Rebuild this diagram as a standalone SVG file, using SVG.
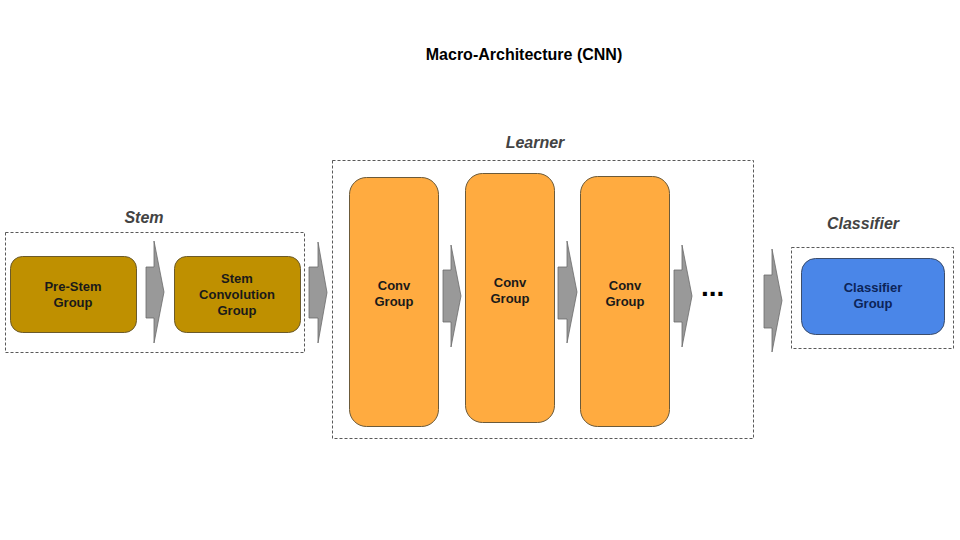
<svg xmlns="http://www.w3.org/2000/svg" width="960" height="540" viewBox="0 0 960 540">
  <style>
    .bg { fill: #ffffff; }
    .frame { fill: none; stroke: #595959; stroke-width: 1; stroke-dasharray: 3 2; }
    .title { font-family: "Liberation Sans", Arial, sans-serif; font-weight: bold; font-size: 16px; fill: #000000; text-anchor: middle; }
    .section { font-family: "Liberation Sans", Arial, sans-serif; font-weight: bold; font-style: italic; font-size: 16px; fill: #434343; text-anchor: middle; }
    .label { font-family: "Liberation Sans", Arial, sans-serif; font-weight: bold; font-size: 13px; fill: #1a1a1a; text-anchor: middle; }
    .label-blue { font-family: "Liberation Sans", Arial, sans-serif; font-weight: bold; font-size: 13px; fill: #0c2458; text-anchor: middle; }
    .gold { fill: #bf9000; stroke: #6b5a2a; stroke-width: 1; }
    .orange { fill: #ffab40; stroke: #6b5a3a; stroke-width: 1; }
    .blue { fill: #4a86e8; stroke: #3c4d6b; stroke-width: 1; }
    .arrow { fill: #999999; stroke: #6b6b6b; stroke-width: 0.8; }
    .dots { font-family: "Liberation Sans", Arial, sans-serif; font-weight: bold; font-size: 28px; fill: #000000; }
  </style>
  <rect class="bg" x="0" y="0" width="960" height="540"/>

  <text class="title" x="524" y="60">Macro-Architecture (CNN)</text>

  <g id="stem-section">
    <rect class="frame" x="5.5" y="232.5" width="299" height="120"/>
    <text class="section" x="144" y="223">Stem</text>
  </g>
  <g id="learner-section">
    <rect class="frame" x="332.5" y="160.5" width="421" height="278"/>
    <text class="section" x="535" y="148">Learner</text>
  </g>
  <g id="classifier-section">
    <rect class="frame" x="791.5" y="247.5" width="162" height="101"/>
    <text class="section" x="863" y="229">Classifier</text>
  </g>

  <g id="pre-stem">
    <rect class="gold" x="10.5" y="256.5" width="126" height="76" rx="12"/>
    <text class="label" x="73" y="291">Pre-Stem</text>
    <text class="label" x="73" y="307">Group</text>
  </g>
  <g id="stem-conv">
    <rect class="gold" x="174.5" y="256.5" width="126" height="76" rx="12"/>
    <text class="label" x="237" y="283">Stem</text>
    <text class="label" x="237" y="299">Convolution</text>
    <text class="label" x="237" y="315">Group</text>
  </g>
  <g id="conv1">
    <rect class="orange" x="349.5" y="177.5" width="89" height="249" rx="17"/>
    <text class="label" x="394" y="290">Conv</text>
    <text class="label" x="394" y="306">Group</text>
  </g>
  <g id="conv2">
    <rect class="orange" x="465.5" y="173.5" width="89" height="249" rx="17"/>
    <text class="label" x="510" y="287">Conv</text>
    <text class="label" x="510" y="303">Group</text>
  </g>
  <g id="conv3">
    <rect class="orange" x="580.5" y="176.5" width="89" height="250" rx="17"/>
    <text class="label" x="625" y="290">Conv</text>
    <text class="label" x="625" y="306">Group</text>
  </g>
  <g id="ellipsis">
    <text class="dots" x="701" y="296">...</text>
  </g>
  <g id="classifier">
    <rect class="blue" x="801.5" y="258.5" width="143" height="76" rx="14"/>
    <text class="label-blue" x="873" y="292">Classifier</text>
    <text class="label-blue" x="873" y="308">Group</text>
  </g>

  <g id="connectors">
    <polygon class="arrow" points="146,267 154,267 154,241 164,292 154,343 154,318 146,318"/>
    <polygon class="arrow" points="309,267 318,267 318,242 327,292.5 318,343 318,318 309,318"/>
    <polygon class="arrow" points="443,270 451,270 451,245 461,296 451,347 451,322 443,322"/>
    <polygon class="arrow" points="558,267 567,267 567,241 577,292 567,343 567,319 558,319"/>
    <polygon class="arrow" points="674,270 682,270 682,245 692,296 682,347 682,322 674,322"/>
    <polygon class="arrow" points="764,275 772,275 772,249 782,300.5 772,352 772,328 764,328"/>
  </g>
</svg>
